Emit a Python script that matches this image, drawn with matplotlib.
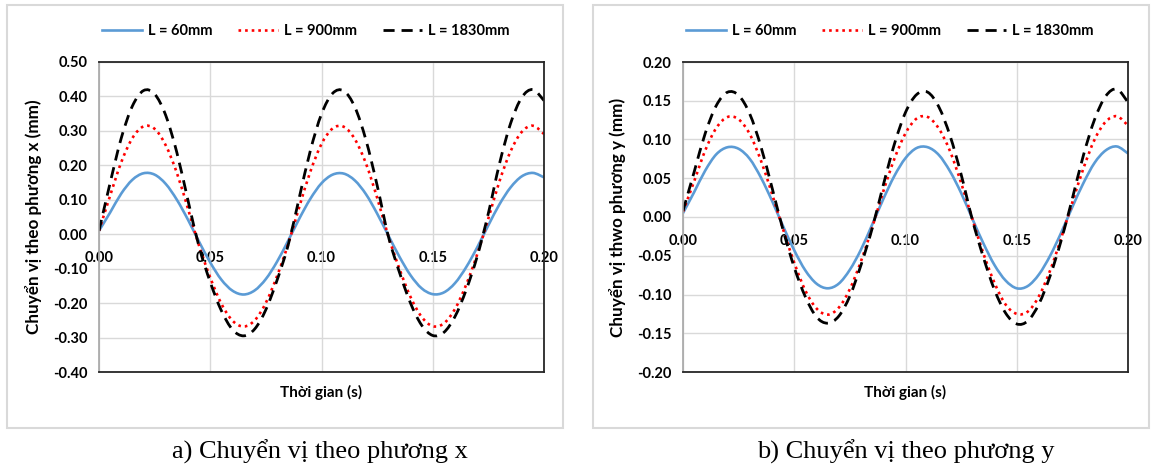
import matplotlib.pyplot as plt
from matplotlib.patches import Rectangle, PathPatch
from matplotlib.path import Path
from matplotlib.ticker import FormatStrFormatter

# time axis (s)
t = [0.000, 0.005, 0.010, 0.015, 0.020, 0.025, 0.030, 0.035, 0.040, 0.045,
     0.050, 0.055, 0.060, 0.065, 0.070, 0.075, 0.080, 0.085, 0.090, 0.095,
     0.100, 0.105, 0.110, 0.115, 0.120, 0.125, 0.130, 0.135, 0.140, 0.145,
     0.150, 0.155, 0.160, 0.165, 0.170, 0.175, 0.180, 0.185, 0.190, 0.195,
     0.200]

# displacement along x (mm)
x_60 = [0.010, 0.063, 0.118, 0.158, 0.177, 0.173, 0.146, 0.100, 0.042, -0.022,
        -0.082, -0.132, -0.164, -0.175, -0.163, -0.130, -0.080, -0.019, 0.045, 0.103,
        0.148, 0.173, 0.176, 0.156, 0.116, 0.060, -0.003, -0.065, -0.119, -0.157,
        -0.174, -0.169, -0.142, -0.096, -0.038, 0.026, 0.087, 0.136, 0.168, 0.178,
        0.165]
x_900 = [0.010, 0.112, 0.209, 0.279, 0.313, 0.306, 0.258, 0.178, 0.074, -0.034,
         -0.126, -0.202, -0.251, -0.268, -0.250, -0.199, -0.122, -0.029, 0.079, 0.182,
         0.262, 0.307, 0.312, 0.276, 0.205, 0.106, -0.005, -0.100, -0.182, -0.240,
         -0.267, -0.259, -0.217, -0.147, -0.058, 0.046, 0.154, 0.241, 0.297, 0.315,
         0.291]
x_1830 = [0.010, 0.149, 0.279, 0.372, 0.417, 0.407, 0.345, 0.237, 0.098, -0.037,
          -0.139, -0.222, -0.277, -0.295, -0.275, -0.219, -0.134, -0.032, 0.106, 0.243,
          0.349, 0.409, 0.416, 0.369, 0.273, 0.142, -0.005, -0.110, -0.200, -0.264,
          -0.294, -0.285, -0.239, -0.162, -0.064, 0.061, 0.205, 0.322, 0.397, 0.420,
          0.388]

# displacement along y (mm)
y_60 = [0.005, 0.032, 0.060, 0.081, 0.090, 0.088, 0.075, 0.051, 0.021, -0.012,
        -0.043, -0.069, -0.086, -0.092, -0.086, -0.068, -0.042, -0.010, 0.023, 0.053,
        0.076, 0.089, 0.090, 0.080, 0.059, 0.031, -0.002, -0.034, -0.062, -0.082,
        -0.092, -0.089, -0.074, -0.050, -0.020, 0.013, 0.044, 0.070, 0.086, 0.091,
        0.082]
y_900 = [0.007, 0.046, 0.086, 0.115, 0.129, 0.126, 0.107, 0.073, 0.030, -0.016,
         -0.059, -0.095, -0.118, -0.126, -0.117, -0.093, -0.057, -0.014, 0.033, 0.075,
         0.108, 0.127, 0.129, 0.114, 0.085, 0.044, -0.002, -0.047, -0.085, -0.113,
         -0.125, -0.122, -0.102, -0.069, -0.027, 0.019, 0.063, 0.100, 0.123, 0.130,
         0.118]
y_1830 = [0.008, 0.058, 0.108, 0.144, 0.161, 0.157, 0.133, 0.091, 0.038, -0.017,
          -0.065, -0.103, -0.129, -0.137, -0.128, -0.102, -0.062, -0.015, 0.041, 0.094,
          0.135, 0.158, 0.161, 0.142, 0.105, 0.055, -0.003, -0.052, -0.094, -0.124,
          -0.138, -0.134, -0.112, -0.076, -0.030, 0.024, 0.080, 0.126, 0.156, 0.165,
          0.148]

labels = ["L = 60mm", "L = 900mm", "L = 1830mm"]
x_ticks = [0.00, 0.05, 0.10, 0.15, 0.20]
a_ticks = [-0.40, -0.30, -0.20, -0.10, 0.00, 0.10, 0.20, 0.30, 0.40, 0.50]
b_ticks = [-0.20, -0.15, -0.10, -0.05, 0.00, 0.05, 0.10, 0.15, 0.20]

FONT = "Lato"
plt.rcParams['font.family'] = [FONT, 'DejaVu Sans']

styles = [dict(color='#5b9bd5', lw=1.9, ls='-'),
          dict(color='#ff0000', lw=1.9, ls=(0, (1, 1.5))),
          dict(color='black', lw=2.0, ls=(0, (4, 2.5)))]


def smooth_line(ax, xs, ys, st):
    # smoothed line like the spreadsheet's, drawn as bezier segments through the points
    pts = list(zip(xs, ys))
    n = len(pts)
    verts = [pts[0]]
    codes = [Path.MOVETO]
    for i in range(n - 1):
        p0 = pts[max(i - 1, 0)]
        p1 = pts[i]
        p2 = pts[i + 1]
        p3 = pts[min(i + 2, n - 1)]
        c1 = (p1[0] + (p2[0] - p0[0]) / 6, p1[1] + (p2[1] - p0[1]) / 6)
        c2 = (p2[0] - (p3[0] - p1[0]) / 6, p2[1] - (p3[1] - p1[1]) / 6)
        verts += [c1, c2, p2]
        codes += [Path.CURVE4] * 3
    ax.add_patch(PathPatch(Path(verts, codes), fill=False, edgecolor=st['color'],
                           lw=st['lw'], linestyle=st['ls'], capstyle='butt'))
    h, = ax.plot([], [], color=st['color'], lw=st['lw'], ls=st['ls'])
    return h


fig = plt.figure(figsize=(11.53, 4.68), dpi=100)

# outer chart boxes
for left in (7 / 1153, 593 / 1153):
    fig.add_artist(Rectangle((left, 1 - 428 / 468), 556 / 1153, 423 / 468,
                             transform=fig.transFigure, fill=False,
                             edgecolor='#d9d9d9', linewidth=1.5))

panels = [
    (99 / 1153, x_60, x_900, x_1830, a_ticks, "Chuyển vị theo phương x (mm)",
     "a) Chuyển vị theo phương x", 320),
    (683 / 1153, y_60, y_900, y_1830, b_ticks, "Chuyển vị thwo phương y (mm)",
     "b) Chuyển vị theo phương y", 906),
]

for left, s1, s2, s3, yt, ylab, cap, capx in panels:
    ax = fig.add_axes([left, 1 - 372 / 468, 445 / 1153, 310 / 468])
    handles = [smooth_line(ax, t, s, st) for s, st in zip((s1, s2, s3), styles)]

    ax.set_xlim(0, 0.2)
    ax.set_ylim(yt[0], yt[-1])
    ax.set_yticks(yt)
    ax.set_xticks(x_ticks)
    ax.yaxis.set_major_formatter(FormatStrFormatter('%.2f'))
    ax.grid(True, color='#d9d9d9', lw=1)
    ax.set_axisbelow(True)
    ax.tick_params(length=0, labelsize=10.5, pad=8)
    ax.tick_params(axis='x', labelbottom=False)
    for lab in ax.get_yticklabels():
        lab.set_fontweight('bold')
    for side in ('top', 'bottom', 'right'):
        ax.spines[side].set_color('#262626')
        ax.spines[side].set_linewidth(1.3)
    ax.spines['left'].set_color('#a6a6a6')
    ax.spines['left'].set_linewidth(1.2)

    # x tick labels sit just under the zero line
    frac = (0 - yt[0]) / (yt[-1] - yt[0])
    sec = ax.secondary_xaxis(frac - 1e-6)
    sec.set_xticks(x_ticks)
    sec.xaxis.set_ticks_position('bottom')
    sec.xaxis.set_major_formatter(FormatStrFormatter('%.2f'))
    for sp in sec.spines.values():
        sp.set_visible(False)
    sec.tick_params(length=0, labelsize=10.5, pad=12)
    for lab in sec.get_xticklabels():
        lab.set_fontweight('bold')

    ax.set_ylabel(ylab, fontsize=12.3, fontweight='bold', labelpad=8)
    ax.set_xlabel("Thời gian (s)", fontsize=11, fontweight='bold', labelpad=9)

    ax.legend(handles, labels, loc='lower center', bbox_to_anchor=(0.465, 1.035),
              ncol=3, frameon=False, handlelength=2.7, columnspacing=1.8,
              handletextpad=0.4, prop={'family': FONT, 'weight': 'bold', 'size': 10.5})

    fig.text(capx / 1153, 1 - 452 / 468, cap, ha='center', va='center',
             family='Liberation Serif', fontsize=19)

fig.savefig("out.png", dpi=100)
